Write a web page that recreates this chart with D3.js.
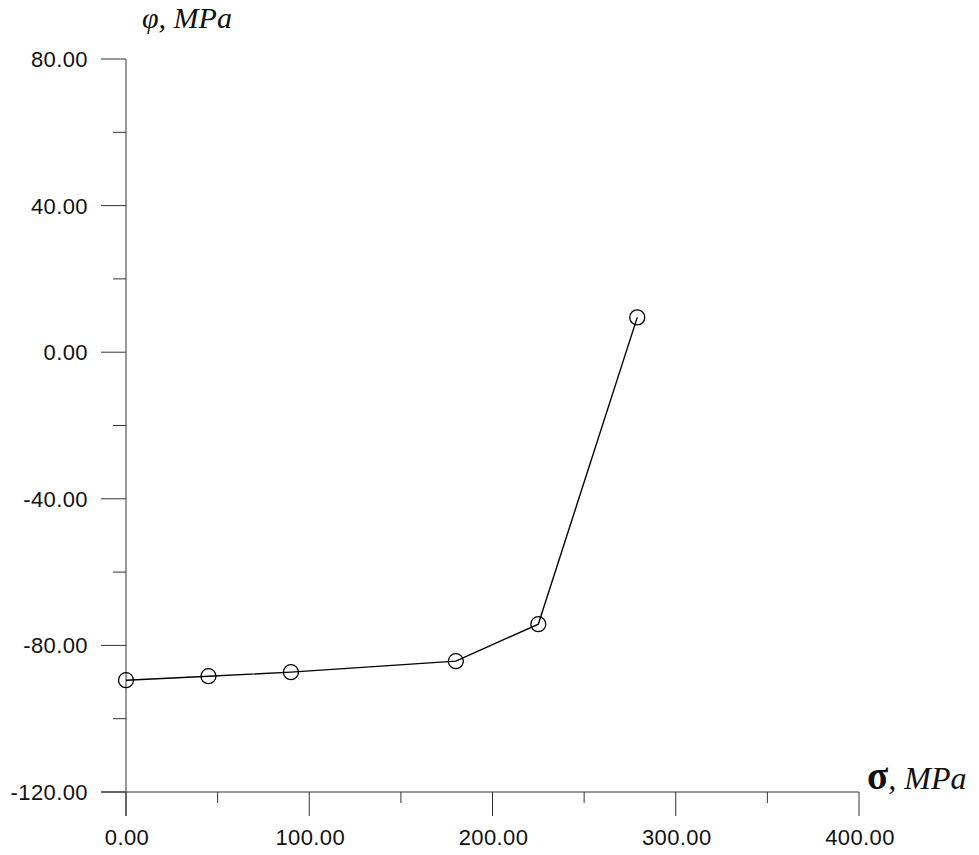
<!DOCTYPE html>
<html>
<head>
<meta charset="utf-8">
<script src="https://cdn.jsdelivr.net/npm/d3@7"></script>
<style>
body { margin: 0; background: #fff; }
svg text.tick { font-family: "Liberation Sans", Arial, sans-serif; font-size: 22px; letter-spacing: 0.4px; fill: #111; }
svg text.lab { font-family: "Liberation Serif", "Times New Roman", serif; font-style: italic; font-size: 30px; fill: #111; }
</style>
</head>
<body>
<svg id="chart" width="979" height="855"></svg>
<script>
var sigma = [0, 45, 90, 180, 225, 279];
var phi = [-89.5, -88.4, -87.3, -84.3, -74.2, 9.5];
var xMajor = [0, 100, 200, 300, 400];
var xMinor = [50, 150, 250, 350];
var yMajor = [80, 40, 0, -40, -80, -120];
var yMinor = [60, 20, -20, -60, -100];

var svg = d3.select("#chart");
var x = d3.scaleLinear().domain([0, 400]).range([126, 859]);
var y = d3.scaleLinear().domain([-120, 80]).range([792, 59]);
var axisColor = "#333";

var g = svg.append("g");

// axes lines
g.append("line").attr("x1", x(0)).attr("x2", x(0)).attr("y1", y(80)).attr("y2", y(-120) + 24)
	.attr("stroke", axisColor).attr("stroke-width", 1);
g.append("line").attr("x1", x(0) - 25).attr("x2", x(400)).attr("y1", y(-120)).attr("y2", y(-120))
	.attr("stroke", axisColor).attr("stroke-width", 1);

// y ticks
g.selectAll(".ymaj").data(yMajor).enter().append("line")
	.attr("x1", x(0) - 25).attr("x2", x(0))
	.attr("y1", function(d) { return y(d); }).attr("y2", function(d) { return y(d); })
	.attr("stroke", axisColor);
g.selectAll(".ymin").data(yMinor).enter().append("line")
	.attr("x1", x(0) - 13).attr("x2", x(0))
	.attr("y1", function(d) { return y(d); }).attr("y2", function(d) { return y(d); })
	.attr("stroke", axisColor);
g.selectAll(".ylab").data(yMajor).enter().append("text")
	.attr("class", "tick")
	.attr("x", 88).attr("y", function(d) { return y(d) + 8; })
	.attr("text-anchor", "end")
	.text(function(d) { return d.toFixed(2); });

// x ticks
g.selectAll(".xmaj").data(xMajor).enter().append("line")
	.attr("x1", function(d) { return x(d); }).attr("x2", function(d) { return x(d); })
	.attr("y1", y(-120)).attr("y2", y(-120) + 24)
	.attr("stroke", axisColor);
g.selectAll(".xmin").data(xMinor).enter().append("line")
	.attr("x1", function(d) { return x(d); }).attr("x2", function(d) { return x(d); })
	.attr("y1", y(-120)).attr("y2", y(-120) + 11)
	.attr("stroke", axisColor);
g.selectAll(".xlab").data(xMajor).enter().append("text")
	.attr("class", "tick")
	.attr("x", function(d) { return x(d) + 1; }).attr("y", 845)
	.attr("text-anchor", "middle")
	.text(function(d) { return d.toFixed(2); });

// axis titles
svg.append("text").attr("class", "lab").attr("x", 142).attr("y", 28).text("φ, MPa");
var xt = svg.append("text").attr("class", "lab").attr("x", 867).attr("y", 789)
	.style("font-size", "32px");
xt.append("tspan").style("font-style", "normal").style("font-weight", "bold").style("font-size", "39px").text("σ");
xt.append("tspan").text(", MPa");

// data line
var pts = sigma.map(function(s, i) { return { s: s, p: phi[i] }; });
var line = d3.line()
	.x(function(d) { return x(d.s); })
	.y(function(d) { return y(d.p); });
svg.append("path").attr("d", line(pts))
	.attr("fill", "none").attr("stroke", "#000").attr("stroke-width", 1.4);
svg.selectAll(".pt").data(pts).enter().append("circle")
	.attr("cx", function(d) { return x(d.s); })
	.attr("cy", function(d) { return y(d.p); })
	.attr("r", 7.5)
	.attr("fill", "none").attr("stroke", "#000").attr("stroke-width", 1.3);
</script>
</body>
</html>
